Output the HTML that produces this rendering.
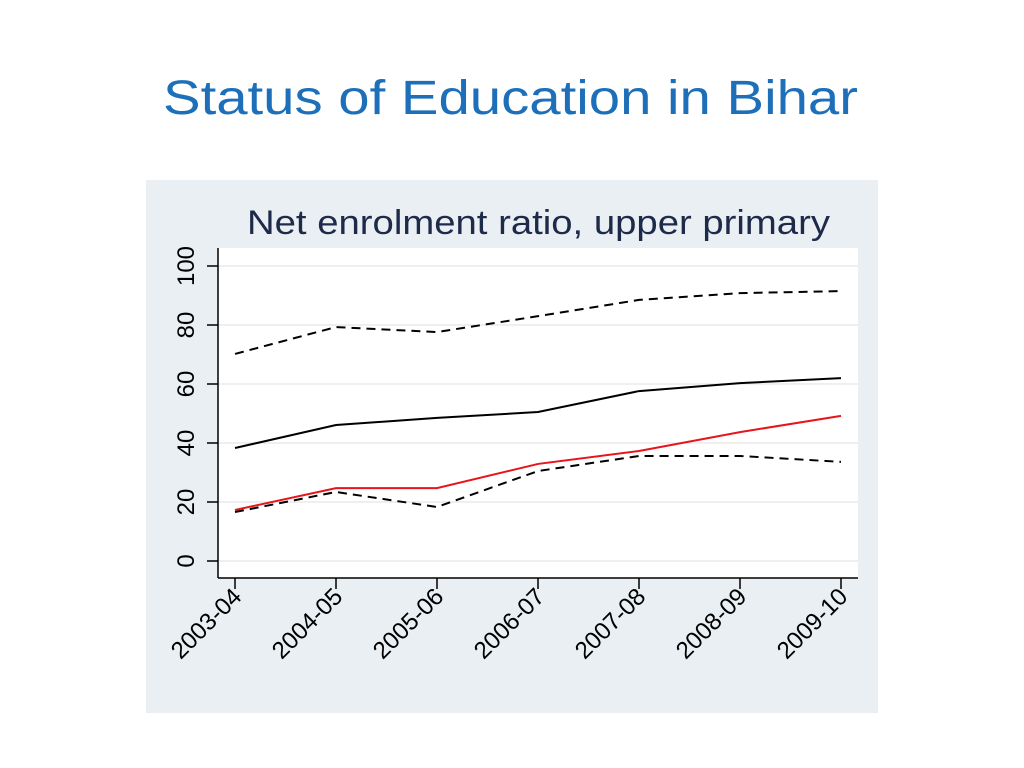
<!DOCTYPE html>
<html><head><meta charset="utf-8"><style>
body{margin:0;background:#fff;width:1024px;height:768px;overflow:hidden;font-family:"Liberation Sans",sans-serif}
</style></head><body>
<svg id="chart" width="1024" height="768" style="position:absolute;left:0;top:0">
<defs><clipPath id="yc"><rect x="100" y="247" width="130" height="400"/></clipPath></defs>
<text x="163" y="114" font-size="48" fill="#1c6fb8" textLength="695" lengthAdjust="spacingAndGlyphs">Status of Education in Bihar</text>
<rect x="146" y="180" width="732" height="533" fill="#e9eff2"/>
<rect x="218" y="248" width="640" height="330" fill="#fff"/>
<text x="247" y="234" font-size="34" fill="#1e2a4a" textLength="583" lengthAdjust="spacingAndGlyphs">Net enrolment ratio, upper primary</text>
<g id="grid"></g><g id="axes"></g><g id="ylabels" clip-path="url(#yc)"></g><g id="series"></g>
</svg>
<script>
const categories=["2003-04","2004-05","2005-06","2006-07","2007-08","2008-09","2009-10"];
const upperDashed=[70.2,79.3,77.6,83,88.5,90.8,91.5];
const blackSolid=[38.3,46.1,48.5,50.5,57.6,60.3,62];
const redSolid=[17.3,24.7,24.7,32.9,37.3,43.7,49.2];
const lowerDashed=[16.6,23.4,18.3,30.5,35.6,35.6,33.6];
const yTicks=[0,20,40,60,80,100];
const NS="http://www.w3.org/2000/svg";
const x=i=>235+i*101;
const y=v=>561-v*2.95;
function mk(tag,attrs,parent){const e=document.createElementNS(NS,tag);for(const k in attrs)e.setAttribute(k,attrs[k]);parent.appendChild(e);return e;}
const grid=document.getElementById('grid'),axes=document.getElementById('axes'),ser=document.getElementById('series'),yl=document.getElementById('ylabels');
yTicks.forEach(t=>{
 const g=mk('line',{x1:218,x2:858,y1:y(t),y2:y(t),stroke:'#eaeaea','stroke-width':1.5},grid);
 
 
 const tk=mk('line',{x1:207,x2:218,y1:y(t),y2:y(t),stroke:'#000','stroke-width':1.5},axes);
 
 
 const lb=mk('text',{x:0,y:0,transform:`translate(194,${y(t)}) rotate(-90)`,'text-anchor':'middle','font-size':24},yl);
 lb.textContent=t;
 
 
});
mk('line',{x1:218,x2:218,y1:248,y2:578,stroke:'#000','stroke-width':1.5},axes);
mk('line',{x1:218,x2:858,y1:578,y2:578,stroke:'#000','stroke-width':1.5},axes);
categories.forEach((c,i)=>{
 const tk=mk('line',{x1:x(i),x2:x(i),y1:578,y2:589,stroke:'#000','stroke-width':1.5},axes);
 
 
 const lb=mk('text',{x:0,y:0,transform:`translate(${x(i)+8},${598}) rotate(-45)`,'text-anchor':'end','font-size':24},axes);
 lb.textContent=c;
 
 
});
function line(data,color,dash,name){
 const p=mk('polyline',{points:data.map((v,i)=>x(i)+','+y(v)).join(' '),fill:'none',stroke:color,'stroke-width':2,'stroke-dasharray':dash||'none'},ser);
 
 
}
line(upperDashed,'#000','9,6','upper-dashed-line');
line(blackSolid,'#000','','black-solid-line');
line(lowerDashed,'#000','9,6','lower-dashed-line');
line(redSolid,'#e8141c','','red-solid-line');
</script>
</body></html>
